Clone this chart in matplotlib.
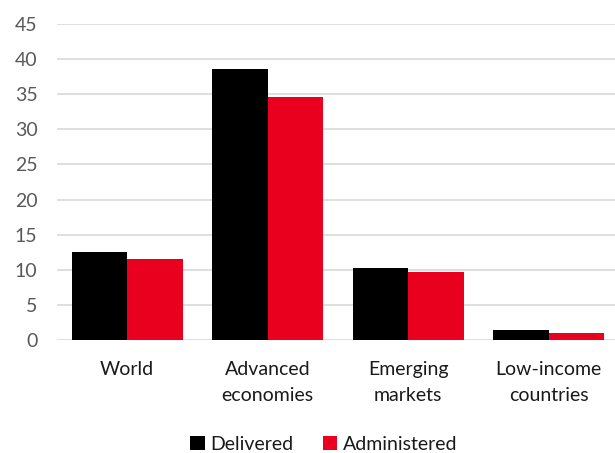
import numpy as np
import matplotlib.pyplot as plt
import matplotlib

matplotlib.rcParams['font.family'] = ['Lato', 'DejaVu Sans']

# data
categories = ['World', 'Advanced\neconomies', 'Emerging\nmarkets', 'Low-income\ncountries']
delivered = [12.5, 38.6, 10.3, 1.4]
administered = [11.5, 34.6, 9.7, 1.0]

fig = plt.figure(figsize=(6.15, 4.53), dpi=100)
ax = fig.add_axes([57 / 615, 1 - 340 / 453, 562 / 615, 316 / 453])

x = np.arange(len(categories))
w = 0.395
ax.bar(x - w / 2, delivered, w, color='#000000', label='Delivered', zorder=3)
ax.bar(x + w / 2, administered, w, color='#e8001e', label='Administered', zorder=3)

ax.set_xlim(-0.5, len(categories) - 0.5)
ax.set_ylim(0, 45)
ax.set_yticks(range(0, 46, 5))
ax.yaxis.grid(True, color='#d9d9d9', linewidth=1.2, zorder=0)
for s in ax.spines.values():
    s.set_visible(False)
ax.tick_params(axis='y', length=0, labelsize=14, labelcolor='#595959', pad=14)
ax.tick_params(axis='x', length=0, labelsize=14, labelcolor='#1a1a1a', pad=15)
ax.set_xticks(x)
ax.set_xticklabels(categories, linespacing=1.65)

ax.legend(loc='center', bbox_to_anchor=(0.5 - 14 / 562, -0.33), ncol=2, frameon=False,
          fontsize=14, handlelength=0.75, handleheight=0.75, handletextpad=0.3,
          columnspacing=1.5, labelcolor='#1a1a1a', borderaxespad=0, borderpad=0.2)

fig.savefig('out.png', dpi=100)
